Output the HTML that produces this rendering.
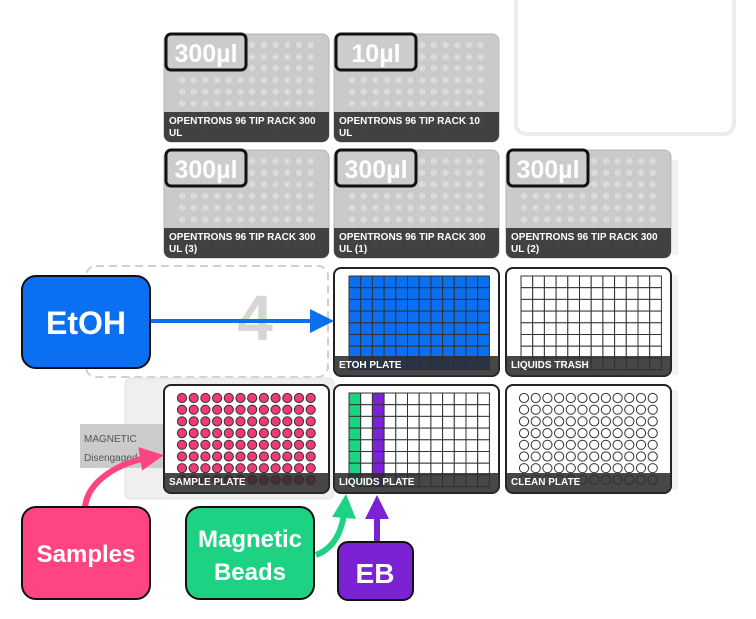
<!DOCTYPE html>
<html><head><meta charset="utf-8"><style>
html,body{margin:0;padding:0;background:#fff;}
svg{display:block;font-family:"Liberation Sans","DejaVu Sans",sans-serif;}
</style></head><body>
<svg id="deck" width="756" height="619" viewBox="0 0 756 619" xmlns="http://www.w3.org/2000/svg">
<defs>
<pattern id="dots" width="4" height="4" patternUnits="userSpaceOnUse"><rect width="4" height="4" fill="#c9c9c9"/><circle cx="1" cy="1" r="0.6" fill="#d6d6d6"/></pattern>
<marker id="ab" markerWidth="6" markerHeight="6" refX="3" refY="3" orient="auto" markerUnits="strokeWidth"><path d="M0,0 L6,3 L0,6 z" fill="#0a6ff0"/></marker>
<marker id="ap" markerWidth="4" markerHeight="4" refX="2" refY="2" orient="auto" markerUnits="strokeWidth"><path d="M0,0 L4,2 L0,4 z" fill="#ff4482"/></marker>
<marker id="ag" markerWidth="4" markerHeight="4" refX="2" refY="2" orient="auto" markerUnits="strokeWidth"><path d="M0,0 L4,2 L0,4 z" fill="#1dd383"/></marker>
<marker id="av" markerWidth="4" markerHeight="4" refX="2" refY="2" orient="auto" markerUnits="strokeWidth"><path d="M0,0 L4,2 L0,4 z" fill="#7a22d4"/></marker>
</defs>
<rect x="516" y="-10" width="218" height="144" rx="10" fill="none" stroke="#ececec" stroke-width="4"/>
<g id="rails" fill="#f1f1f1">
<rect x="672" y="160" width="6" height="95"/><rect x="672" y="275" width="6" height="100"/><rect x="672" y="390" width="6" height="100"/>
</g>
<rect x="86" y="266" width="242" height="111" rx="10" fill="none" stroke="#d0d0d0" stroke-width="2" stroke-dasharray="8,5"/>
<text x="255" y="340" font-size="64" font-weight="bold" fill="#d6d6d6" text-anchor="middle">4</text>
<rect x="125" y="378" width="209" height="121" rx="6" fill="#efefef" stroke="#e2e2e2"/>
<rect x="80" y="424" width="85" height="44" fill="#cbcbcb"/>
<text x="84" y="442" font-size="10" fill="#555">MAGNETIC</text>
<text x="84" y="461" font-size="10" fill="#555">Disengaged</text>
<g id="labware"></g>
<g id="callouts">
<line x1="150" y1="321" x2="322" y2="321" stroke="#0a6ff0" stroke-width="4" marker-end="url(#ab)"/>
<path d="M85,507 C88,480 120,462 152,457" fill="none" stroke="#ff4482" stroke-width="6" marker-end="url(#ap)"/>
<path d="M316,555 C335,548 343,530 345,506" fill="none" stroke="#1dd383" stroke-width="6" marker-end="url(#ag)"/>
<line x1="377" y1="541" x2="377" y2="507" stroke="#7a22d4" stroke-width="6" marker-end="url(#av)"/>
<rect x="22" y="276" width="128" height="92" rx="14" fill="#0a6ff0" stroke="#111" stroke-width="2"/>
<text x="86" y="334" font-size="32" font-weight="bold" fill="#fff" text-anchor="middle">EtOH</text>
<rect x="22" y="507" width="128" height="92" rx="14" fill="#ff4482" stroke="#111" stroke-width="2"/>
<text x="86" y="562" font-size="24" font-weight="bold" fill="#fff" text-anchor="middle">Samples</text>
<rect x="186" y="507" width="128" height="92" rx="14" fill="#1dd383" stroke="#111" stroke-width="2"/>
<text x="250" y="547" font-size="24" font-weight="bold" fill="#fff" text-anchor="middle">Magnetic</text>
<text x="250" y="580" font-size="24" font-weight="bold" fill="#fff" text-anchor="middle">Beads</text>
<rect x="338" y="542" width="75" height="58" rx="10" fill="#7a22d4" stroke="#111" stroke-width="2"/>
<text x="375" y="583" font-size="28" font-weight="bold" fill="#fff" text-anchor="middle">EB</text>
</g>
</svg>
<script>
const slotNames=['tiprack-1','tiprack-2','tiprack-3','tiprack-4','tiprack-5','etoh-plate','liquids-trash','sample-plate','liquids-plate','clean-plate'];
const slotTypes=['tip','tip','tip','tip','tip','plate','plate','plate','plate','plate'];
const slotLabels1=['OPENTRONS 96 TIP RACK 300','OPENTRONS 96 TIP RACK 10','OPENTRONS 96 TIP RACK 300','OPENTRONS 96 TIP RACK 300','OPENTRONS 96 TIP RACK 300','ETOH PLATE','LIQUIDS TRASH','SAMPLE PLATE','LIQUIDS PLATE','CLEAN PLATE'];
const slotLabels2=['UL','UL','UL (3)','UL (1)','UL (2)','','','','',''];
const volumes=['300µl','10µl','300µl','300µl','300µl','','','','',''];
const slotCols=[0,1,0,1,2,1,2,0,1,2];
const slotRows=[0,0,1,1,1,2,2,3,3,3];
const wellShape=['','','','','','square','square','circle','square','circle'];
const colFill=[[],[],[],[],[],['#0a6ff0','#0a6ff0','#0a6ff0','#0a6ff0','#0a6ff0','#0a6ff0','#0a6ff0','#0a6ff0','#0a6ff0','#0a6ff0','#0a6ff0','#0a6ff0'],[],['#f03a74','#f03a74','#f03a74','#f03a74','#f03a74','#f03a74','#f03a74','#f03a74','#f03a74','#f03a74','#f03a74','#f03a74'],['#1dd383','','#7a22d4'],[]];
const colX=[164,334,506], rowY=[34,150,268,385];
const W=165,H=108,NS='http://www.w3.org/2000/svg';
const g=document.getElementById('labware');
function mk(t,a,p){const e=document.createElementNS(NS,t);for(const k in a)e.setAttribute(k,a[k]);(p||g).appendChild(e);return e;}
for(let i=0;i<slotNames.length;i++){
 const x=colX[slotCols[i]],y=rowY[slotRows[i]];
 const grp=mk('g',{});
 
 
 const tip=slotTypes[i]==='tip';
 mk('rect',{x:x,y:y,width:W,height:H,rx:7,fill:tip?'url(#dots)':'#fff',stroke:tip?'#b5b5b5':'#222','stroke-width':tip?1:2},grp);
 for(let r=0;r<8;r++)for(let c=0;c<12;c++){
  const cx=x+18+c*11.7, cy=y+11+r*11.7;
  if(tip){mk('circle',{cx:cx,cy:cy,r:2.6,fill:'#cfcfcf',stroke:'#e6e6e6','stroke-width':0.8},grp);mk('circle',{cx:cx,cy:cy,r:1,fill:'#eee'},grp);}
  else if(wellShape[i]==='square'){const f=colFill[i][c]||'#fff';mk('rect',{x:x+15+c*11.7,y:y+8+r*11.7,width:11.7,height:11.7,fill:f,stroke:'#333','stroke-width':1},grp);}
  else{const f=colFill[i][c]||'#fff';mk('circle',{cx:cx,cy:cy+2,r:4.6,fill:f,stroke:'#333','stroke-width':1},grp);}
 }
 const lh=slotLabels2[i]?30:20;
 mk('path',{d:`M${x},${y+H-lh} h${W} v${lh-7} a7,7 0 0 1 -7,7 h${-(W-14)} a7,7 0 0 1 -7,-7 z`,fill:'rgba(45,45,45,0.88)'},grp);
 const t1=mk('text',{x:x+5,y:y+H-lh+12,'font-size':10,'font-weight':'bold',fill:'#fff'},grp);t1.textContent=slotLabels1[i];
 
 
 if(slotLabels2[i]){const t2=mk('text',{x:x+5,y:y+H-lh+24,'font-size':10,'font-weight':'bold',fill:'#fff'},grp);t2.textContent=slotLabels2[i];}
 if(volumes[i]){
  const v=mk('g',{},grp);
  
  
  mk('rect',{x:x+2,y:y,width:80,height:36,rx:5,fill:'#cccccc',stroke:'#111','stroke-width':3},v);
  const vt=mk('text',{x:x+42,y:y+28,'font-size':25,'font-weight':'bold',fill:'#fff','text-anchor':'middle'},v);vt.textContent=volumes[i];
 }
}
</script>
</body></html>
